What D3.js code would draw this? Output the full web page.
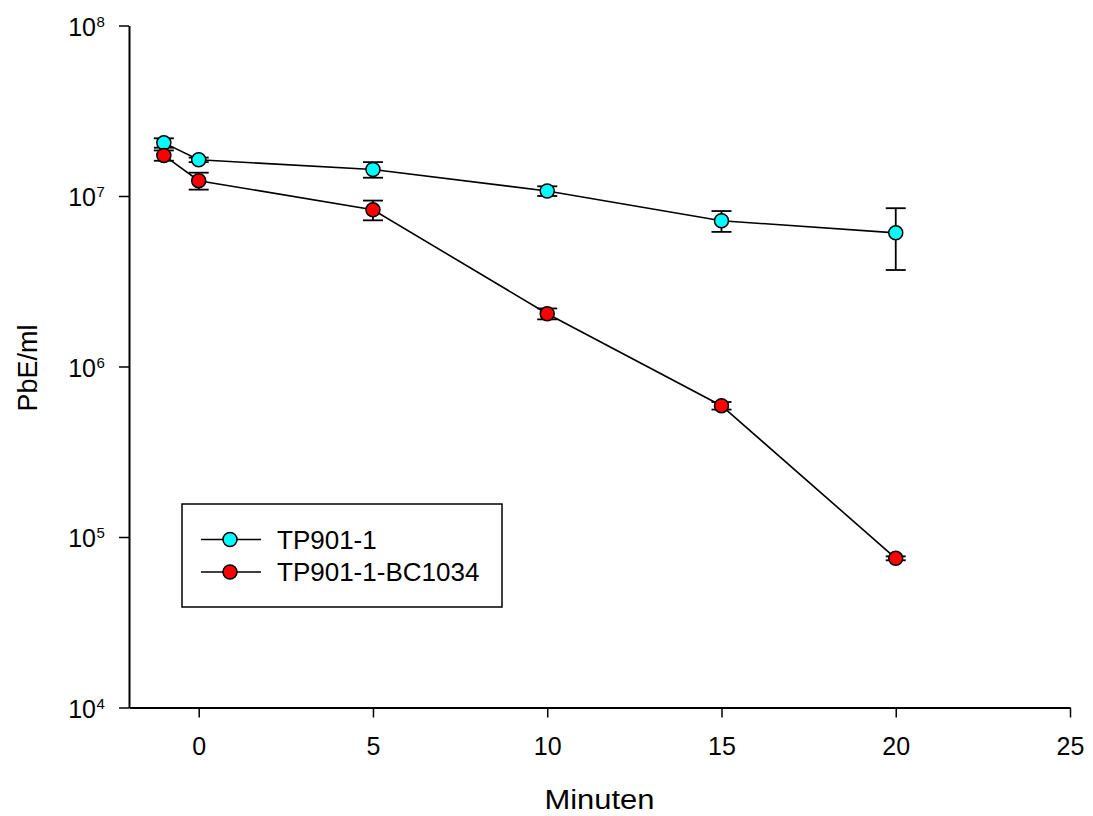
<!DOCTYPE html>
<html>
<head>
<meta charset="utf-8">
<script src="https://cdn.jsdelivr.net/npm/d3@7/dist/d3.min.js"></script>
<style>
  body { margin: 0; background: #fff; }
  svg { display: block; font-family: "Liberation Sans", Arial, sans-serif; }
</style>
</head>
<body>
<svg id="chart" width="1093" height="816"></svg>
<script>
// ---- data ----
const minutes = [-1, 0, 5, 10, 15, 20];
const tp901Values = [2.05e7, 1.63e7, 1.43e7, 1.07e7, 7.16e6, 6.08e6];
const tp901Errors = [1.3e6, 5e5, 1.5e6, 7e5, 1.0e6, 2.4e6];
const bc1034Values = [1.73e7, 1.23e7, 8.3e6, 2.04e6, 5.89e5, 7.5e4];
const bc1034Errors = [1.2e6, 1.4e6, 1.1e6, 1.5e5, 3e4, 2e3];
const seriesNames = ["TP901-1", "TP901-1-BC1034"];
const seriesColors = ["#00ffff", "#ff0000"];
const xTicks = [0, 5, 10, 15, 20, 25];
const yTickExponents = [4, 5, 6, 7, 8];
const xTitle = "Minuten";
const yTitle = "PbE/ml";

// ---- layout ----
const svg = d3.select("#chart");
const x = d3.scaleLinear().domain([-2, 25]).range([129, 1070]);
const y = d3.scaleLog().domain([1e4, 1e8]).range([707.5, 25.5]);

const series = [
  { name: seriesNames[0], color: seriesColors[0], values: tp901Values, errors: tp901Errors },
  { name: seriesNames[1], color: seriesColors[1], values: bc1034Values, errors: bc1034Errors }
];

// axes
const xAxis = svg.append("g").attr("transform", `translate(0,${y(1e4)})`)
  .call(d3.axisBottom(x).tickValues(xTicks).tickSize(10).tickSizeOuter(0).tickFormat(d3.format("d")));
xAxis.select(".domain").attr("stroke", "#000").attr("stroke-width", 2);
xAxis.selectAll(".tick line").attr("stroke", "#000").attr("stroke-width", 1.5);
xAxis.selectAll(".tick text").attr("font-size", 25).attr("fill", "#000").attr("y", 30).attr("dy", "0.71em")
  .attr("font-family", "'Liberation Sans', Arial, sans-serif");

const yAxis = svg.append("g").attr("transform", `translate(${x(-2)},0)`)
  .call(d3.axisLeft(y).tickValues(yTickExponents.map(e => Math.pow(10, e))).tickSize(10).tickSizeOuter(0).tickFormat(""));
yAxis.select(".domain").attr("stroke", "#000").attr("stroke-width", 2);
yAxis.selectAll(".tick line").attr("stroke", "#000").attr("stroke-width", 1.5);

// y tick labels with superscripts
const yl = svg.append("g");
yTickExponents.forEach(e => {
  const ty = y(Math.pow(10, e));
  yl.append("text").attr("x", 96).attr("y", ty + 10).attr("text-anchor", "end")
    .attr("font-size", 25).text("10");
  yl.append("text").attr("x", 96.5).attr("y", ty + 1).attr("text-anchor", "start")
    .attr("font-size", 15).text(String(e));
});

// titles
svg.append("text").attr("x", (x(-2) + x(25)) / 2).attr("y", 809).attr("text-anchor", "middle")
  .attr("font-size", 27).attr("textLength", 110).attr("lengthAdjust", "spacingAndGlyphs").text(xTitle);
svg.append("text").attr("transform", `translate(37,${368}) rotate(-90)`).attr("text-anchor", "middle")
  .attr("font-size", 27).text(yTitle);

// lines
const line = d3.line().x((d, i) => x(minutes[i])).y(d => y(d));
series.forEach(s => {
  svg.append("path").attr("d", line(s.values)).attr("fill", "none").attr("stroke", "#000").attr("stroke-width", 1.6);
});

// error bars
series.forEach(s => {
  const g = svg.append("g").attr("stroke", "#000").attr("stroke-width", 1.8);
  s.values.forEach((v, i) => {
    const cx = x(minutes[i]);
    const yt = y(v + s.errors[i]);
    const yb = y(v - s.errors[i]);
    g.append("line").attr("x1", cx).attr("x2", cx).attr("y1", yt).attr("y2", yb);
    g.append("line").attr("x1", cx - 10).attr("x2", cx + 10).attr("y1", yt).attr("y2", yt);
    g.append("line").attr("x1", cx - 10).attr("x2", cx + 10).attr("y1", yb).attr("y2", yb);
  });
});

// markers
series.forEach(s => {
  svg.append("g").selectAll("circle").data(s.values).join("circle")
    .attr("cx", (d, i) => x(minutes[i])).attr("cy", d => y(d)).attr("r", 7)
    .attr("fill", s.color).attr("stroke", "#000").attr("stroke-width", 1.5);
});

// legend
const lg = svg.append("g");
lg.append("rect").attr("x", 182).attr("y", 504).attr("width", 320).attr("height", 103)
  .attr("fill", "#fff").attr("stroke", "#000").attr("stroke-width", 1.5);
series.forEach((s, i) => {
  const ly = 539.5 + i * 32.5;
  lg.append("line").attr("x1", 201).attr("x2", 261).attr("y1", ly).attr("y2", ly)
    .attr("stroke", "#000").attr("stroke-width", 1.6);
  lg.append("circle").attr("cx", 230).attr("cy", ly).attr("r", 7)
    .attr("fill", s.color).attr("stroke", "#000").attr("stroke-width", 1.5);
  lg.append("text").attr("x", 277).attr("y", ly + 9).attr("font-size", 26).text(s.name);
});
</script>
</body>
</html>
